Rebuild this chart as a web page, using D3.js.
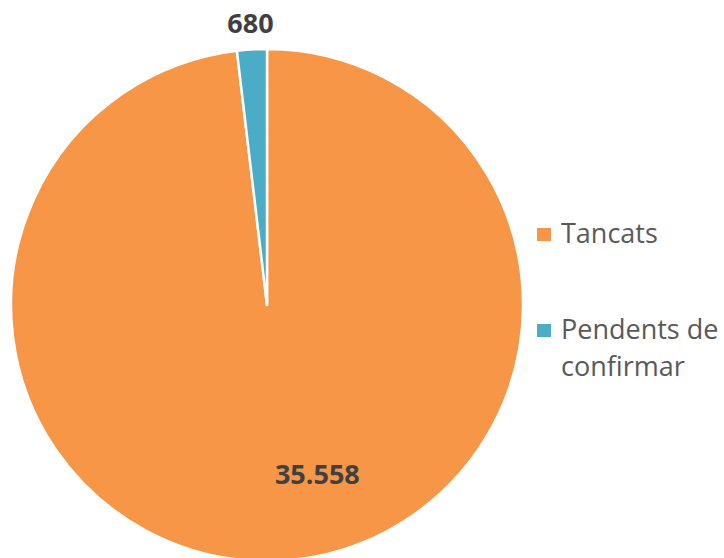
<!DOCTYPE html>
<html>
<head>
<meta charset="utf-8">
<script src="https://cdn.jsdelivr.net/npm/d3@7"></script>
<style>
  body { margin: 0; background: #fff; }
  svg { display: block; font-family: "Open Sans", "Noto Sans", sans-serif; }
</style>
</head>
<body>
<svg id="chart" width="724" height="558"></svg>
<script>
// chart data
const categories = ['Tancats', 'Pendents de confirmar'];
const values = [35558, 680];
const valueLabels = ['35.558', '680'];
const legendLines = [['Tancats'], ['Pendents de', 'confirmar']];
const colors = ['#F79646', '#4BACC6'];

const svg = d3.select('#chart');
const cx = 267, cy = 305, r = 256;

const color = d3.scaleOrdinal().domain(categories).range(colors);

const pie = d3.pie().sort(null).value(d => d.value);
const arcs = pie(categories.map((c, i) => ({cat: c, value: values[i], label: valueLabels[i]})));
const arc = d3.arc().innerRadius(0).outerRadius(r);

const g = svg.append('g').attr('transform', `translate(${cx},${cy})`);

g.selectAll('path.slice')
  .data(arcs)
  .join('path')
  .attr('class', 'slice')
  .attr('d', arc)
  .attr('fill', d => color(d.data.cat))
  .attr('stroke', '#fff')
  .attr('stroke-width', 2.5)
  .attr('stroke-linejoin', 'round');

// data labels: big slice inside (shifted like excel does), small slice outside above
const labelRadius = [r * 0.69, r * 1.1];
const labelShift = [-0.23, 0];
function labelXY(d, i) {
  const a = (d.startAngle + d.endAngle) / 2 + labelShift[i];
  return [Math.sin(a) * labelRadius[i], -Math.cos(a) * labelRadius[i]];
}
g.selectAll('text.val')
  .data(arcs)
  .join('text')
  .attr('class', 'val')
  .attr('x', (d, i) => labelXY(d, i)[0])
  .attr('y', (d, i) => labelXY(d, i)[1])
  .attr('dy', '0.35em')
  .attr('text-anchor', 'middle')
  .attr('font-size', 27)
  .attr('font-weight', 'bold')
  .attr('fill', '#404040')
  .text(d => d.data.label);

// legend
const legend = svg.append('g').attr('transform', 'translate(537,228)');
const rowY = d3.scalePoint().domain(categories).range([0, 96]);
const item = legend.selectAll('g.item')
  .data(categories)
  .join('g')
  .attr('class', 'item')
  .attr('transform', d => `translate(0,${rowY(d)})`);

item.append('rect')
  .attr('width', 14)
  .attr('height', 13)
  .attr('fill', d => color(d));

item.append('text')
  .attr('x', 24)
  .attr('y', 15)
  .attr('font-size', 27)
  .attr('fill', '#595959')
  .selectAll('tspan')
  .data((d, i) => legendLines[i])
  .join('tspan')
  .attr('x', 24)
  .attr('dy', (d, i) => i === 0 ? 0 : 37)
  .text(d => d);
</script>
</body>
</html>
